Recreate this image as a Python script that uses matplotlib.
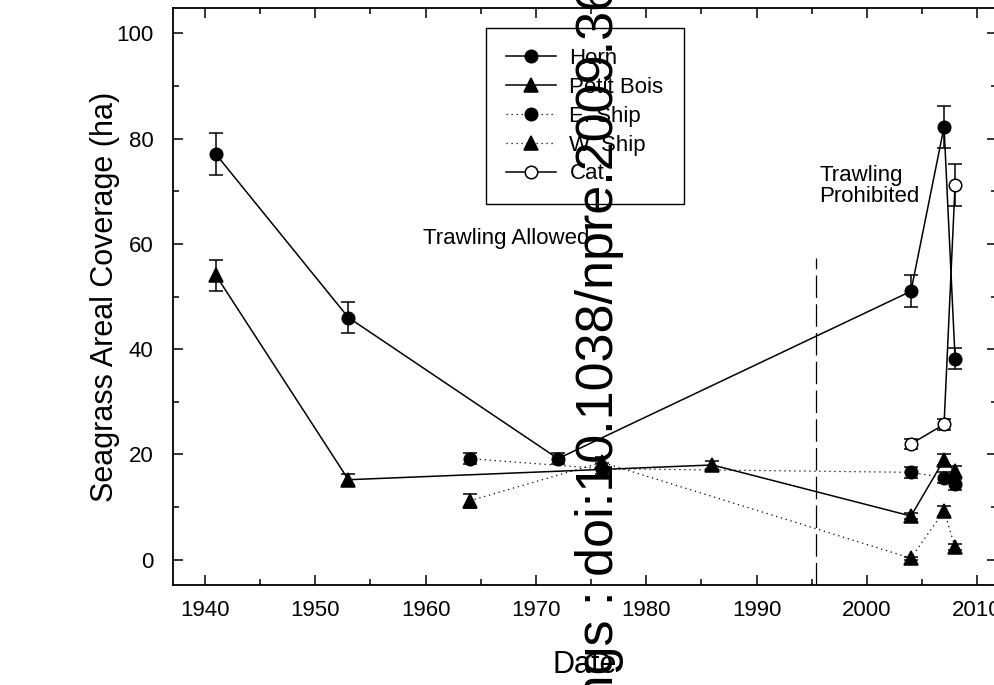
import matplotlib
matplotlib.use("Agg")
import matplotlib.pyplot as plt
from matplotlib.ticker import MultipleLocator

plt.rcParams['font.family'] = ['Liberation Sans', 'DejaVu Sans']

# seagrass coverage per island (ha), with error bars
horn_years = [1941, 1953, 1972, 2004, 2007, 2008]
horn_vals = [77, 46, 19.2, 51, 82.2, 38.2]
horn_err = [4, 3, 1, 3, 4, 2]

petit_years = [1941, 1953, 1986, 2004, 2007, 2008]
petit_vals = [54, 15.2, 18, 8.3, 19, 16.8]
petit_err = [3, 1, 0.7, 0.5, 1, 1]

eship_years = [1964, 1976, 2004, 2007, 2008]
eship_vals = [19.2, 17.3, 16.6, 15.6, 14.3]
eship_err = [1, 1, 1, 1, 1]

wship_years = [1964, 1976, 2004, 2007, 2008]
wship_vals = [11.2, 18.5, 0.3, 9.3, 2.4]
wship_err = [1.3, 1, 0.3, 1, 0.5]

cat_years = [2004, 2007, 2008]
cat_vals = [22, 25.7, 71.2]
cat_err = [1, 1, 4]

trawl_ban_year = 1995.4

fig = plt.figure(figsize=(9.95, 6.85), dpi=100)
ax = fig.add_axes([173 / 995, 100 / 685, 824 / 995, 577 / 685])

series = [
    (horn_years, horn_vals, horn_err, 'o', '-', 'black', 'Horn'),
    (petit_years, petit_vals, petit_err, '^', '-', 'black', 'Petit Bois'),
    (eship_years, eship_vals, eship_err, 'o', (0, (1, 3)), 'black', 'E. Ship'),
    (wship_years, wship_vals, wship_err, '^', (0, (1, 3)), 'black', 'W. Ship'),
    (cat_years, cat_vals, cat_err, 'o', '-', 'white', 'Cat'),
]

for yrs, vals, err, mk, ls, fc, lab in series:
    ax.errorbar(yrs, vals, yerr=err, fmt='none', ecolor='black',
                elinewidth=1.1, capsize=5, capthick=1.1, zorder=2)
    lw = 1.1 if ls == '-' else 0.9
    ms = 9 if mk == 'o' else 10.5
    ax.plot(yrs, vals, linestyle=ls, color='black', lw=lw, marker=mk,
            markersize=ms, markerfacecolor=fc, markeredgecolor='black',
            markeredgewidth=1.1, label=lab, zorder=3)

# vertical dashed line marking the trawling ban
ax.plot([trawl_ban_year, trawl_ban_year], [-4.8, 57.3], color='black',
        lw=0.9, dashes=(18, 5), zorder=1)

ax.text(1959.8, 61, 'Trawling Allowed', fontsize=16, ha='left', va='center')
ax.text(1995.7, 71, 'Trawling\nProhibited', fontsize=16, ha='left',
        va='center', linespacing=1.05)

ax.set_xlim(1937.1, 2011.8)
ax.set_ylim(-4.8, 104.8)
ax.xaxis.set_major_locator(MultipleLocator(10))
ax.xaxis.set_minor_locator(MultipleLocator(5))
ax.yaxis.set_major_locator(MultipleLocator(20))
ax.yaxis.set_minor_locator(MultipleLocator(10))
ax.tick_params(which='both', direction='in', top=True, right=True,
               width=1.1, labelsize=16)
ax.tick_params(which='major', length=7)
ax.tick_params(which='minor', length=4)
ax.tick_params(axis='x', which='major', pad=11)
ax.tick_params(axis='y', which='major', pad=14)
for sp in ax.spines.values():
    sp.set_linewidth(1.3)

ax.set_xlabel('Date', fontsize=22)
ax.set_ylabel('Seagrass Areal Coverage (ha)', fontsize=22)
ax.xaxis.set_label_coords(0.5, -0.113)
ax.yaxis.set_label_coords(-0.064, 0.5)

leg = ax.legend(loc='upper left', bbox_to_anchor=(0.380, 0.965),
                borderaxespad=0, fontsize=16, frameon=True, fancybox=False,
                edgecolor='black', framealpha=1, handlelength=2.25,
                handletextpad=0.6, labelspacing=0.35, borderpad=0.9)
leg.get_frame().set_linewidth(1.0)

# preprint watermark running up the page
fig.text(613 / 995, -366 / 685,
         'Nature Precedings : doi:10.1038/npre.2009.3656.1',
         fontsize=37.5, rotation=90, rotation_mode='anchor',
         ha='left', va='baseline', color='black')

fig.savefig('out.png', dpi=100)
